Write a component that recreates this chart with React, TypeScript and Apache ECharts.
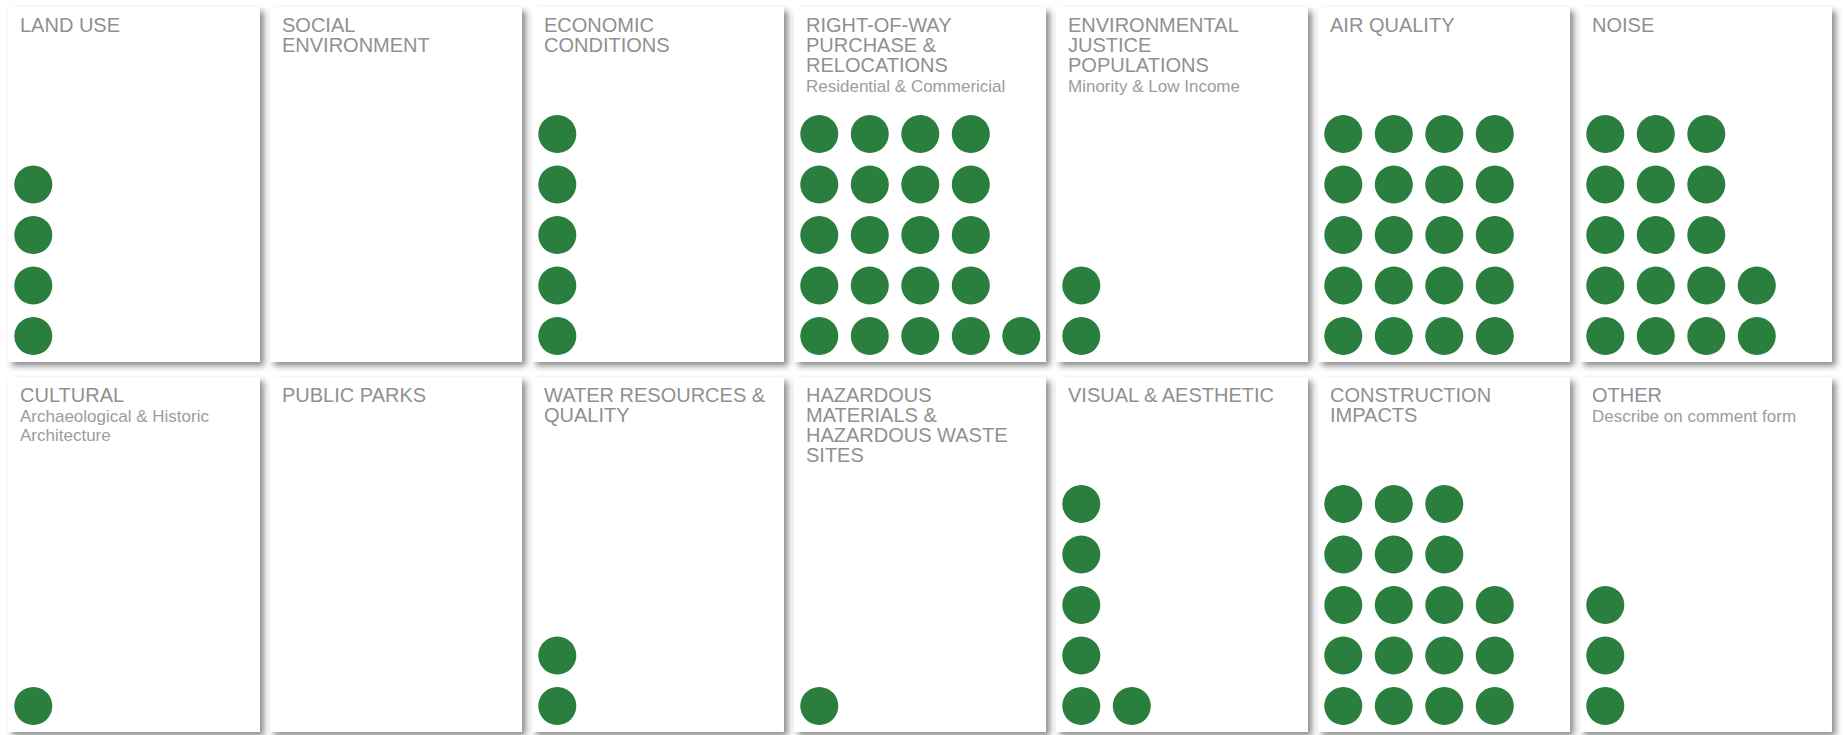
import React, { useEffect, useRef } from "react";
import * as echarts from "echarts";

const titles: string[] = [
  "LAND USE",
  "SOCIAL\nENVIRONMENT",
  "ECONOMIC\nCONDITIONS",
  "RIGHT-OF-WAY\nPURCHASE &\nRELOCATIONS",
  "ENVIRONMENTAL\nJUSTICE\nPOPULATIONS",
  "AIR QUALITY",
  "NOISE",
  "CULTURAL",
  "PUBLIC PARKS",
  "WATER RESOURCES &\nQUALITY",
  "HAZARDOUS\nMATERIALS &\nHAZARDOUS WASTE\nSITES",
  "VISUAL & AESTHETIC",
  "CONSTRUCTION\nIMPACTS",
  "OTHER",
];

const subtitles: string[] = [
  "",
  "",
  "",
  "Residential & Commericial",
  "Minority & Low Income",
  "",
  "",
  "Archaeological & Historic\nArchitecture",
  "",
  "",
  "",
  "",
  "",
  "Describe on comment form",
];

const counts: number[] = [4, 0, 5, 21, 2, 20, 17, 1, 0, 2, 1, 6, 18, 3];

const DOTS_PER_COLUMN = 5;

const PANEL_X0 = 8;
const PANEL_Y0 = 7;
const PANEL_W = 252;
const PANEL_H = 355;
const PITCH_X = 262;
const PITCH_Y = 370;
const PER_ROW = 7;
const STEP = 50.5;
const OFFSET_X = 25.3;
const OFFSET_Y = 26;

export default function App() {
  const ref = useRef<HTMLDivElement>(null);
  useEffect(() => {
    if (!ref.current) return;
    const chart = echarts.init(ref.current, undefined, { renderer: "svg" });
    const grid: any[] = [];
    const xAxis: any[] = [];
    const yAxis: any[] = [];
    const series: any[] = [];
    const title: any[] = [];
    titles.forEach((t, i) => {
      const col = i % PER_ROW;
      const row = Math.floor(i / PER_ROW);
      const left = PANEL_X0 + col * PITCH_X;
      const top = PANEL_Y0 + row * PITCH_Y;
      grid.push({
        left,
        top,
        width: PANEL_W,
        height: PANEL_H,
        show: true,
        backgroundColor: "#ffffff",
        borderWidth: 0,
        shadowColor: "rgba(0,0,0,0.45)",
        shadowBlur: 6,
        shadowOffsetX: 4,
        shadowOffsetY: 4,
      });
      const xMin = -OFFSET_X / STEP;
      const yMin = -OFFSET_Y / STEP;
      xAxis.push({
        type: "value",
        gridIndex: i,
        min: xMin,
        max: xMin + PANEL_W / STEP,
        show: false,
      });
      yAxis.push({
        type: "value",
        gridIndex: i,
        min: yMin,
        max: yMin + PANEL_H / STEP,
        show: false,
      });
      const pts: number[][] = [];
      for (let k = 0; k < counts[i]; k++) {
        pts.push([Math.floor(k / DOTS_PER_COLUMN), k % DOTS_PER_COLUMN]);
      }
      series.push({
        type: "scatter",
        xAxisIndex: i,
        yAxisIndex: i,
        data: pts,
        symbol: "circle",
        symbolSize: 38,
        itemStyle: { color: "#2a7f3f", opacity: 1 },
        silent: true,
      });
      title.push({
        text: t,
        subtext: subtitles[i],
        left: left + 12,
        top: top + 8,
        padding: 0,
        itemGap: 2,
        textStyle: {
          fontFamily: "Liberation Sans",
          fontSize: 20,
          lineHeight: 20,
          fontWeight: "normal",
          color: "#909090",
        },
        subtextStyle: {
          fontFamily: "Liberation Sans",
          fontSize: 17,
          lineHeight: 19,
          color: "#9c9c9c",
        },
      });
    });
    chart.setOption({
      animation: false,
      backgroundColor: "#ffffff",
      title,
      grid,
      xAxis,
      yAxis,
      series,
    });
    return () => chart.dispose();
  }, []);
  return (
    <div
      ref={ref}
      style={{ position: "absolute", left: 0, top: 0, width: 1843, height: 735 }}
    />
  );
}
